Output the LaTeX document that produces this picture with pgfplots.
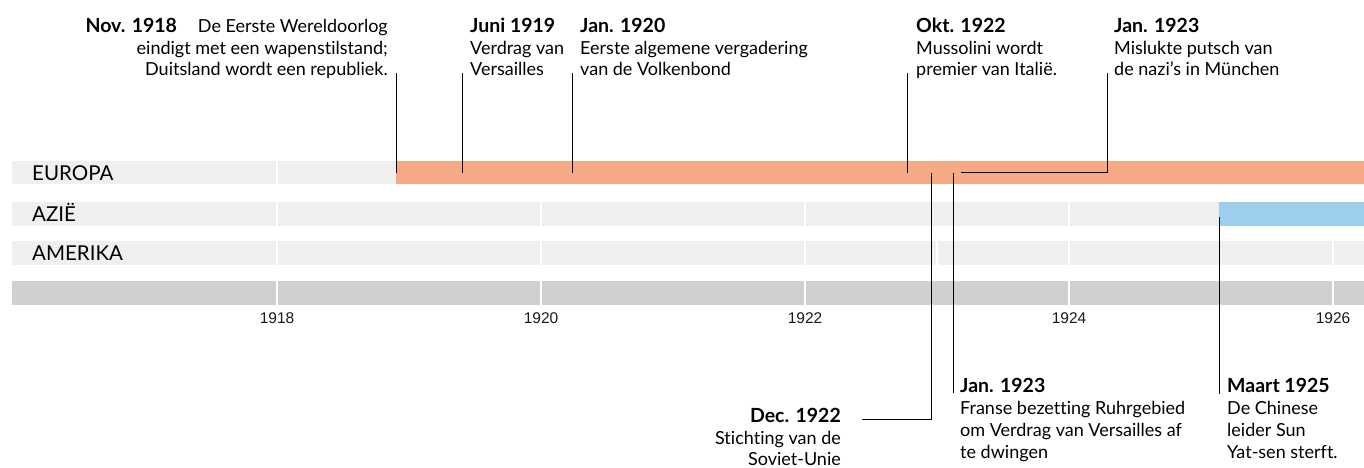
\documentclass[border=0pt]{standalone}
\usepackage{pgfplots}
\pgfplotsset{compat=1.18}
\usepackage{fontspec}
\setmainfont{Lato}[Ligatures={NoCommon}]
\newfontfamily\tickfont{Liberation Sans}
\definecolor{eu}{HTML}{F5AA85}
\definecolor{as}{HTML}{9DCEEE}
\definecolor{band}{HTML}{EFEFEF}
\definecolor{axband}{HTML}{D0D0D0}
\newcommand{\bodyf}{\fontsize{18}{21}\selectfont}
\newcommand{\hd}[1]{{\fontsize{19.5}{21}\selectfont\bfseries #1}}
\newcommand{\catf}{\fontsize{20.5}{22}\selectfont}
\begin{document}
\begin{tikzpicture}
\useasboundingbox (0,0) rectangle (1364pt,467pt);
\begin{axis}[at={(0,0)}, anchor=south west, scale only axis,
  width=1364pt, height=467pt,
  xmin=1915.9015, xmax=1926.2348, ymin=0, ymax=467, y dir=reverse,
  hide axis, clip=false]
% background bands
\fill[band] (1915.9924,160.7) rectangle (1926.2348,184.3);
\fill[band] (1915.9924,201.7) rectangle (1926.2348,225.7);
\fill[band] (1915.9924,241.0) rectangle (1926.2348,265.0);
\fill[axband] (1915.9924,281.0) rectangle (1926.2348,304.7);
% white grid lines
\pgfplotsinvokeforeach{1918,1920,1922,1924,1926}{
  \draw[white, line width=1.2pt] (#1,160.7) -- (#1,184.3);
  \draw[white, line width=1.2pt] (#1,201.7) -- (#1,225.7);
  \draw[white, line width=1.2pt] (#1,241.0) -- (#1,265.0);
  \draw[white, line width=1.2pt] (#1,281.0) -- (#1,304.7);
}
\draw[white, line width=1.2pt] (1923.0,241.0) -- (1923.0,265.0);
% data bars
\addplot[fill=eu, draw=none] coordinates {(1918.9015,160.7) (1926.2348,160.7) (1926.2348,184.3) (1918.9015,184.3)} -- cycle;
\addplot[fill=as, draw=none] coordinates {(1925.1364,201.7) (1926.2348,201.7) (1926.2348,225.7) (1925.1364,225.7)} -- cycle;
% category labels
\node[anchor=base west, inner sep=0pt, font=\catf] at (1916.1439,180) {EUROPA};
\node[anchor=base west, inner sep=0pt, font=\catf] at (1916.1439,221) {AZIË};
\node[anchor=base west, inner sep=0pt, font=\catf] at (1916.1439,260.3) {AMERIKA};
% tick labels
\pgfplotsinvokeforeach{1918,1920,1922,1924,1926}{
  \node[anchor=base, inner sep=0pt, font=\tickfont\fontsize{15.5}{16}\selectfont, text=black!90] at (#1,323) {#1};
}
% connector lines
\draw[black, line width=1pt] (1918.9090,73) -- (1918.9090,172.5);
\draw[black, line width=1pt] (1919.4015,73) -- (1919.4015,172.5);
\draw[black, line width=1pt] (1920.2348,73) -- (1920.2348,172.5);
\draw[black, line width=1pt] (1922.7727,73) -- (1922.7727,172.5);
\draw[black, line width=1pt] (1924.2879,73) -- (1924.2879,172.5) -- (1923.1818,172.5);
\draw[black, line width=1pt] (1923.1212,173) -- (1923.1212,393);
\draw[black, line width=1pt] (1922.9545,173) -- (1922.9545,419) -- (1922.4318,419);
\draw[black, line width=1pt] (1925.1364,217) -- (1925.1364,394);
% top texts
\node[anchor=base east, inner sep=0pt, font=\bodyf] at (1918.8409,32) {\hd{Nov. 1918}\hspace{21pt}De Eerste Wereldoorlog};
\node[anchor=base east, inner sep=0pt, font=\bodyf] at (1918.8409,54) {eindigt met een wapenstilstand;};
\node[anchor=base east, inner sep=0pt, font=\bodyf] at (1918.8409,75.5) {Duitsland wordt een republiek.};
\node[anchor=base west, inner sep=0pt, font=\bodyf] at (1919.4621,32) {\hd{Juni 1919}};
\node[anchor=base west, inner sep=0pt, font=\bodyf] at (1919.4621,54) {Verdrag van};
\node[anchor=base west, inner sep=0pt, font=\bodyf] at (1919.4621,75.5) {Versailles};
\node[anchor=base west, inner sep=0pt, font=\bodyf] at (1920.2955,32) {\hd{Jan. 1920}};
\node[anchor=base west, inner sep=0pt, font=\bodyf] at (1920.2955,54) {Eerste algemene vergadering};
\node[anchor=base west, inner sep=0pt, font=\bodyf] at (1920.2955,75.5) {van de Volkenbond};
\node[anchor=base west, inner sep=0pt, font=\bodyf] at (1922.8409,32) {\hd{Okt. 1922}};
\node[anchor=base west, inner sep=0pt, font=\bodyf] at (1922.8409,54) {Mussolini wordt};
\node[anchor=base west, inner sep=0pt, font=\bodyf] at (1922.8409,75.5) {premier van Italië.};
\node[anchor=base west, inner sep=0pt, font=\bodyf] at (1924.3409,32) {\hd{Jan. 1923}};
\node[anchor=base west, inner sep=0pt, font=\bodyf] at (1924.3409,54) {Mislukte putsch van};
\node[anchor=base west, inner sep=0pt, font=\bodyf] at (1924.3409,75.5) {de nazi’s in München};
% bottom texts
\node[anchor=base east, inner sep=0pt, font=\bodyf] at (1922.2727,422) {\hd{Dec. 1922}};
\node[anchor=base east, inner sep=0pt, font=\bodyf] at (1922.2727,444) {Stichting van de};
\node[anchor=base east, inner sep=0pt, font=\bodyf] at (1922.2727,465) {Soviet-Unie};
\node[anchor=base west, inner sep=0pt, font=\bodyf] at (1923.1742,392) {\hd{Jan. 1923}};
\node[anchor=base west, inner sep=0pt, font=\bodyf] at (1923.1742,414) {Franse bezetting Ruhrgebied};
\node[anchor=base west, inner sep=0pt, font=\bodyf] at (1923.1742,436) {om Verdrag van Versailles af};
\node[anchor=base west, inner sep=0pt, font=\bodyf] at (1923.1742,458) {te dwingen};
\node[anchor=base west, inner sep=0pt, font=\bodyf] at (1925.1970,392) {\hd{Maart 1925}};
\node[anchor=base west, inner sep=0pt, font=\bodyf] at (1925.1970,414) {De Chinese};
\node[anchor=base west, inner sep=0pt, font=\bodyf] at (1925.1970,436) {leider Sun};
\node[anchor=base west, inner sep=0pt, font=\bodyf] at (1925.1970,458) {Yat-sen sterft.};
\end{axis}
\end{tikzpicture}
\end{document}
